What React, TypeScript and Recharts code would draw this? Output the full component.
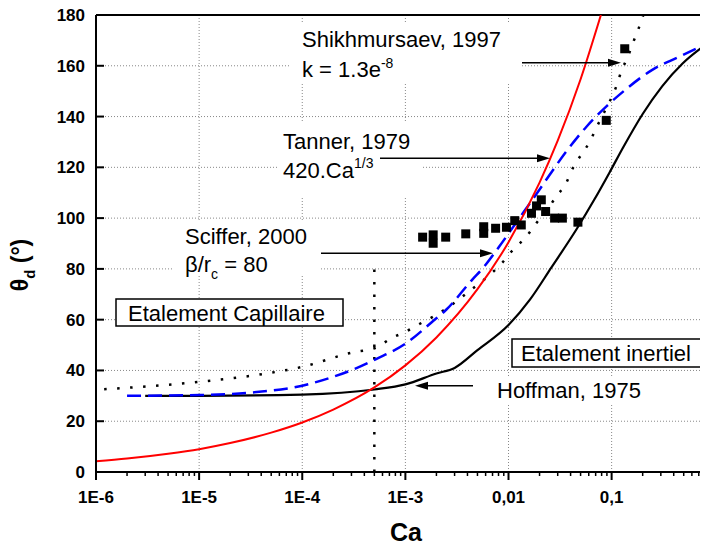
import React from 'react';
import { ComposedChart, Line, Scatter, XAxis, YAxis, CartesianGrid, ReferenceLine } from 'recharts';

// Ca values and contact angles (deg)
const tannerCa = [1e-6, 2e-6, 5e-6, 1e-5, 2e-5, 5e-5, 1e-4, 2e-4, 5e-4, 1e-3, 2e-3, 5e-3, 1e-2, 2e-2, 3e-2, 5e-2, 0.0787];
const tannerTheta = [4.2, 5.3, 7.2, 9.0, 11.4, 15.5, 19.5, 24.6, 33.3, 42, 53, 72, 90.5, 114, 130.5, 154.7, 180];

const scifferCa = [2e-6, 1e-5, 3e-5, 1e-4, 2e-4, 3.4e-4, 5.2e-4, 1e-3, 1.8e-3, 2.5e-3, 4.5e-3, 5.7e-3, 8.2e-3, 0.012, 0.0174, 0.025, 0.036, 0.057, 0.089, 0.14, 0.25, 0.45, 0.86];
const scifferTheta = [30, 30.3, 31.2, 34, 37.5, 41, 44.5, 50.5, 59, 64, 76, 80.5, 89, 98.5, 107.7, 117, 126, 136, 144, 151, 158.5, 163.5, 169];

const shikhCa = [1.2e-6, 1e-5, 4.5e-5, 1e-4, 3e-4, 5.2e-4, 7.3e-4, 1e-3, 1.4e-3, 1.85e-3, 2.5e-3, 4.5e-3, 6.3e-3, 8.5e-3, 0.011, 0.0149, 0.0186, 0.0233, 0.0291, 0.0364, 0.0422, 0.0508, 0.0612, 0.0711, 0.0855, 0.111, 0.124, 0.144, 0.161, 0.18, 0.203];
const shikhTheta = [32.6, 35.5, 38.8, 41.4, 47, 49, 52.7, 55.2, 58.5, 61.1, 64.4, 72.3, 77, 82, 87.4, 92.7, 98, 103, 108.5, 114, 119.8, 125, 130, 135.6, 142, 151.9, 157.8, 163.7, 169, 174, 180];

const hoffmanCa = [3e-6, 1e-5, 1e-4, 5e-4, 1e-3, 2e-3, 3e-3, 5e-3, 0.01, 0.0162, 0.026, 0.0455, 0.0684, 0.0955, 0.13, 0.2, 0.31, 0.49, 0.86];
const hoffmanTheta = [30, 30, 30.5, 32.5, 34.5, 38.8, 41, 48, 57.9, 68, 80.5, 95.5, 107.5, 118, 128, 141, 152, 161, 169];

const expCa = [1.47e-3, 1.86e-3, 1.86e-3, 2.46e-3, 3.85e-3, 5.75e-3, 5.75e-3, 7.5e-3, 9.55e-3, 0.0115, 0.0133, 0.0167, 0.0187, 0.0208, 0.0229, 0.028, 0.0333, 0.0471, 0.0887, 0.134];
const expTheta = [92.5, 93.4, 90.1, 92.5, 93.8, 96.6, 94, 96, 96.4, 99, 97.3, 101.9, 104.8, 107.2, 102.6, 100, 100, 98.4, 138.5, 166.7];

const limitCa = [5e-4, 5e-4];
const limitTheta = [0, 83];

const decades = [1e-6, 1e-5, 1e-4, 1e-3, 1e-2, 1e-1];
const decadeLabels = ['1E-6', '1E-5', '1E-4', '1E-3', '0,01', '0,1'];
const yTicks = [0, 20, 40, 60, 80, 100, 120, 140, 160, 180];

const toPoints = (xs: number[], ys: number[]) => xs.map((ca, i) => ({ ca, theta: ys[i] }));

const xTicks: number[] = [];
decades.forEach((d) => {
  xTicks.push(d);
  for (let m = 2; m <= 9; m++) {
    if (m * d <= 0.86) xTicks.push(m * d);
  }
});

const FONT = 'Arial, "Liberation Sans", sans-serif';

const XTick = ({ x, y, payload }: any) => {
  const i = decades.indexOf(payload.value);
  const major = i >= 0;
  return (
    <g>
      <line x1={x} x2={x} y1={y} y2={y + (major ? 8 : 4)} stroke="#000" strokeWidth={major ? 2 : 1.5} />
      {major && (
        <text x={x} y={y + 31} textAnchor="middle" fontFamily={FONT} fontWeight="bold" fontSize={17} fill="#000">
          {decadeLabels[i]}
        </text>
      )}
    </g>
  );
};

const YTick = ({ x, y, payload }: any) => (
  <g>
    <line x1={x} x2={x + 8} y1={y} y2={y} stroke="#000" strokeWidth={2} />
    <text x={x - 11} y={y + 6} textAnchor="end" fontFamily={FONT} fontWeight="bold" fontSize={17} fill="#000">
      {payload.value}
    </text>
  </g>
);

const Square = ({ cx, cy }: any) => <rect x={cx - 4.5} y={cy - 4.5} width={9} height={9} fill="#000" />;

const Arrow = ({ x1, x2, y }: { x1: number; x2: number; y: number }) => {
  const dir = x2 > x1 ? 1 : -1;
  return (
    <g>
      <line x1={x1} x2={x2 - dir * 10} y1={y} y2={y} stroke="#000" strokeWidth={1.5} />
      <polygon points={`${x2},${y} ${x2 - dir * 13},${y - 4} ${x2 - dir * 13},${y + 4}`} fill="#000" />
    </g>
  );
};

// annotations, in page coordinates minus the 8px body margin
const Notes = () => (
  <svg
    width={700}
    height={546}
    style={{ position: 'absolute', left: 0, top: 0, pointerEvents: 'none', overflow: 'visible' }}
  >
    <g transform="translate(0,8)">
      <g fill="#fff">
        <rect x={282} y={14} width={232} height={62} />
        <rect x={269} y={115} width={146} height={74} />
        <rect x={165} y={214} width={147} height={53} />
        <rect x={482} y={368} width={160} height={27} />
      </g>
      <g fontFamily={FONT} fontSize={22} fill="#000">
        <text x={294} y={39}>Shikhmursaev, 1997</text>
        <text x={294} y={69}>
          k = 1.3e<tspan dy={-9} fontSize={14}>-8</tspan>
        </text>
        <text x={275} y={141}>Tanner, 1979</text>
        <text x={275} y={170}>
          420.Ca<tspan dy={-10} fontSize={14}>1/3</tspan>
        </text>
        <text x={177} y={236}>Sciffer, 2000</text>
        <text x={177} y={264}>
          β/r<tspan dy={7} fontSize={14}>c</tspan>
          <tspan dy={-7}> = 80</tspan>
        </text>
        <rect x={108} y={291} width={227} height={27} fill="#fff" stroke="#000" strokeWidth={1.5} />
        <text x={120} y={312.5}>Etalement Capillaire</text>
        <rect x={504} y={331} width={192} height={28} fill="#fff" stroke="#000" strokeWidth={1.5} />
        <text x={513} y={352.5}>Etalement inertiel</text>
        <text x={489} y={389.5}>Hoffman, 1975</text>
      </g>
      <Arrow x1={514} x2={613} y={54.7} />
      <Arrow x1={372} x2={542} y={150.3} />
      <Arrow x1={313} x2={485} y={245.3} />
      <Arrow x1={465} x2={407} y={377.7} />
      <text x={398} y={533} textAnchor="middle" fontFamily={FONT} fontWeight="bold" fontSize={25} fill="#000">
        Ca
      </text>
      <text
        transform="translate(20,257) rotate(-90)"
        textAnchor="middle"
        fontFamily={FONT}
        fontWeight="bold"
        fontSize={23}
        fill="#000"
      >
        θ<tspan dy={7} fontSize={15}>d</tspan>
        <tspan dy={-7}> (°)</tspan>
      </text>
    </g>
  </svg>
);

export default function App() {
  return (
    <div style={{ position: 'relative', width: 700, height: 546, marginTop: -8, background: '#fff' }}>
      <ComposedChart width={700} height={546} margin={{ top: 15, right: 0, bottom: 0, left: 0 }}>
        <CartesianGrid vertical={false} stroke="#888" strokeDasharray="1 2" />
        {decades.map((d) => (
          <ReferenceLine key={d} x={d} stroke="#888" strokeDasharray="1 2" />
        ))}
        <XAxis
          dataKey="ca"
          type="number"
          scale="log"
          domain={[1e-6, 0.86]}
          allowDataOverflow
          ticks={xTicks}
          interval={0}
          height={74}
          tickSize={0}
          tickMargin={0}
          tickLine={false}
          axisLine={{ stroke: '#000', strokeWidth: 2 }}
          tick={<XTick />}
        />
        <YAxis
          type="number"
          domain={[0, 180]}
          allowDataOverflow
          ticks={yTicks}
          interval={0}
          width={88}
          tickSize={0}
          tickMargin={0}
          tickLine={false}
          axisLine={{ stroke: '#000', strokeWidth: 2 }}
          tick={<YTick />}
        />
        <ReferenceLine y={180} stroke="#000" strokeWidth={2} />
        <Line
          data={toPoints(limitCa, limitTheta)}
          dataKey="theta"
          type="linear"
          stroke="#000"
          strokeWidth={2.5}
          strokeDasharray="2.5 10"
          dot={false}
          isAnimationActive={false}
        />
        <Line
          data={toPoints(shikhCa, shikhTheta)}
          dataKey="theta"
          type="monotone"
          stroke="#000"
          strokeWidth={2.5}
          strokeDasharray="2.5 10.5"
          dot={false}
          isAnimationActive={false}
        />
        <Line
          data={toPoints(hoffmanCa, hoffmanTheta)}
          dataKey="theta"
          type="monotone"
          stroke="#000"
          strokeWidth={2.2}
          dot={false}
          isAnimationActive={false}
        />
        <Line
          data={toPoints(scifferCa, scifferTheta)}
          dataKey="theta"
          type="monotone"
          stroke="#0000ff"
          strokeWidth={2.5}
          strokeDasharray="14 7"
          dot={false}
          isAnimationActive={false}
        />
        <Line
          data={toPoints(tannerCa, tannerTheta)}
          dataKey="theta"
          type="monotone"
          stroke="#ff0000"
          strokeWidth={2}
          dot={false}
          isAnimationActive={false}
        />
        <Scatter data={toPoints(expCa, expTheta)} dataKey="theta" shape={<Square />} isAnimationActive={false} />
      </ComposedChart>
      <Notes />
    </div>
  );
}
